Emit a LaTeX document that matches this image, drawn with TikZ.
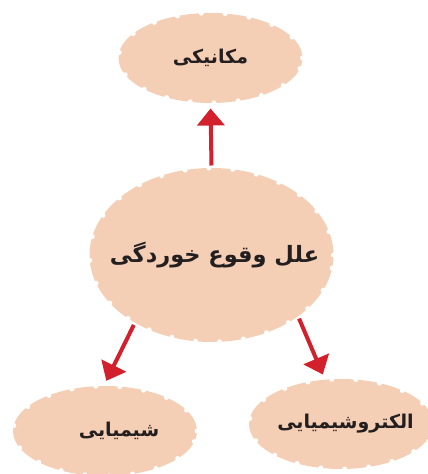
\documentclass[tikz,border=0pt]{standalone}
\usepackage{fontspec}
\newfontfamily\arabicfont[Script=Arabic]{DejaVu Sans}
\TeXXeTstate=1
\usepackage{xcolor}
\definecolor{bubblefill}{HTML}{F5CFB5}
\definecolor{arrowred}{HTML}{D2202C}
\definecolor{inktext}{HTML}{231F20}
\usepackage{tikz}
\usetikzlibrary{arrows.meta,shapes.geometric}
% text of zero width, pushed right by half the optional length
\newcommand{\faText}[2][0pt]{\hspace{#1}\makebox[0pt]{\beginR #2\endR}}
\tikzset{
  bubble/.style  = {ellipse,fill=bubblefill,draw=white,line width=5pt,
                     dash pattern=on 0pt off 24pt,line cap=round,
                     inner sep=0pt,text=inktext,align=center},
  small/.style   = {bubble,minimum width=184pt,minimum height=90pt,
                     font=\arabicfont\bfseries\fontsize{19}{23}\selectfont},
  big/.style     = {bubble,minimum width=244pt,minimum height=174pt,
                     font=\arabicfont\bfseries\fontsize{22.5}{27}\selectfont},
  sig/.style     = {-{Triangle[width=27pt,length=17pt]},line width=4pt,
                     draw=arrowred,shorten >=3pt},
}
\begin{document}
\begin{tikzpicture}[x=1pt,y=1pt]
  \useasboundingbox (0,0) rectangle (428,474);
  % Bubbles
  \node[small] (mech)  at (210.5,416) {\faText{مکانیکی}};
  \node[big]   (cause) at (211.5,219) {\faText[6pt]{علل وقوع خوردگی}};
  \node[small] (chem)  at (105,43)    {\faText[28pt]{شیمیایی}};
  \node[small] (elec)  at (341,50)    {\faText[9pt]{الکتروشیمیایی}};

  % Arrows
  \draw[sig] (cause.north) -- (mech.south);
  \draw[sig] (cause.222) -- (chem.north);
  \draw[sig] (cause.324) -- (elec.110);
\end{tikzpicture}
\end{document}
